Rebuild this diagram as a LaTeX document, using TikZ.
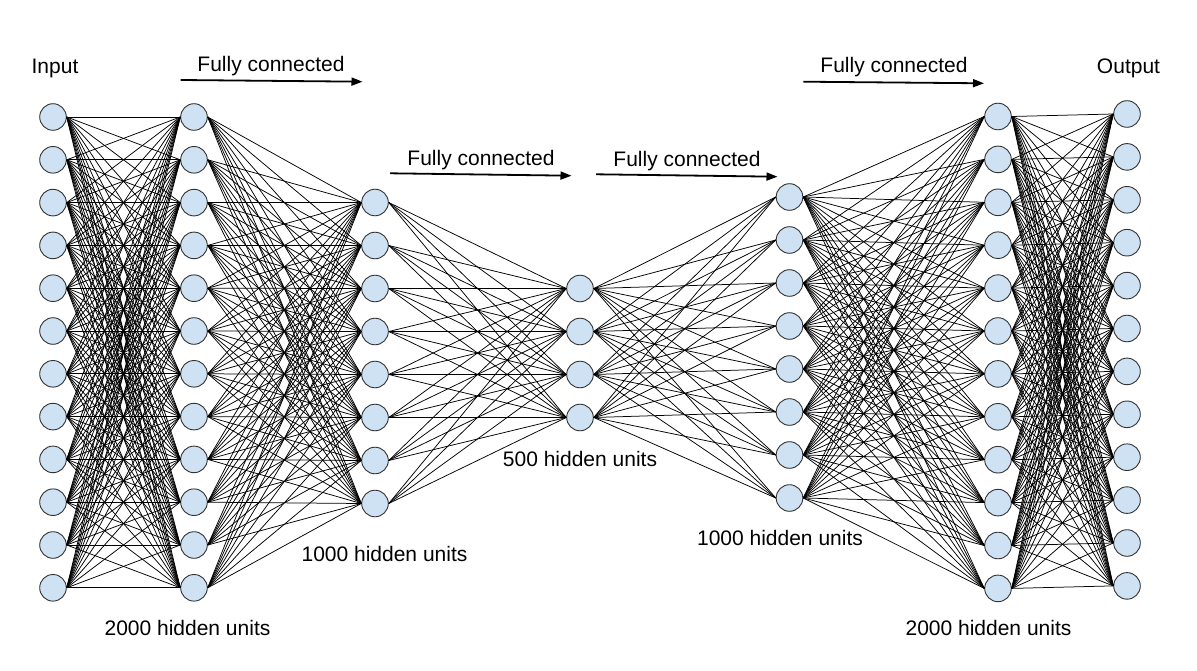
\documentclass[tikz,border=0pt]{standalone}
\usepackage{fontspec}
\setmainfont{Liberation Sans}
\usetikzlibrary{arrows.meta}
\definecolor{nfill}{HTML}{CFE2F3}
\definecolor{nline}{HTML}{333333}
\begin{document}
\begin{tikzpicture}[x=1pt,y=-1pt,
  neuron/.style={circle,draw=nline,fill=nfill,line width=0.9pt,minimum size=26.6pt,inner sep=0pt},
  edge/.style={draw=black,line width=0.75pt},
  flow/.style={draw=black,line width=1.8pt,-{Triangle[length=11pt,width=8pt]}},
  lbl/.style={font=\fontsize{21}{25}\selectfont,anchor=base,inner sep=0pt}]
\useasboundingbox (0,0) rectangle (1197,671);
% layers
\foreach \i in {0,...,11} {
  \node[neuron] (A\i) at (53,{117+\i*42.8}) {};
  \node[neuron] (B\i) at (194,{117+\i*42.8}) {};
  \node[neuron] (F\i) at (998,{116.5+\i*42.9}) {};
  \node[neuron] (G\i) at (1127,{114+\i*42.9}) {};
}
\foreach \i in {0,...,7} {
  \node[neuron] (C\i) at (375,{202.5+\i*43}) {};
  \node[neuron] (E\i) at (789.5,{197+\i*43}) {};
}
\foreach \i in {0,...,3} {
  \node[neuron] (D\i) at (580,{288.5+\i*43}) {};
}
% connections
\begin{scope}[on background layer/.style={}]
\foreach \i in {0,...,11} \foreach \j in {0,...,11} \draw[edge] (A\i.east) -- (B\j.west);
\foreach \i in {0,...,11} \foreach \j in {0,...,7} \draw[edge] (B\i.east) -- (C\j.west);
\foreach \i in {0,...,7} \foreach \j in {0,...,3} \draw[edge] (C\i.east) -- (D\j.west);
\foreach \i in {0,...,3} \foreach \j in {0,...,7} \draw[edge] (D\i.east) -- (E\j.west);
\foreach \i in {0,...,7} \foreach \j in {0,...,11} \draw[edge] (E\i.east) -- (F\j.west);
\foreach \i in {0,...,11} \foreach \j in {0,...,11} \draw[edge] (F\i.east) -- (G\j.west);
\end{scope}
% labels
\node[lbl] (tin) at (55,73.3) {Input};
\node[lbl] (tout) at (1128.5,73.3) {Output};
\node[lbl] (fc1) at (271,71.7) {Fully connected};
\node[lbl] (fc2) at (481,166) {Fully connected};
\node[lbl] (fc3) at (687,166.5) {Fully connected};
\node[lbl] (fc4) at (894,73) {Fully connected};
\coordinate (a1s) at (180.7,80); \coordinate (a1e) at (362.5,81.7);
\coordinate (a2s) at (390,173.3); \coordinate (a2e) at (571.5,175.7);
\coordinate (a3s) at (596,174.3); \coordinate (a3e) at (777.5,176.7);
\coordinate (a4s) at (803.3,81.7); \coordinate (a4e) at (984,83.3);
\draw[flow] (a1s) -- (a1e);
\draw[flow] (a2s) -- (a2e);
\draw[flow] (a3s) -- (a3e);
\draw[flow] (a4s) -- (a4e);
\node[lbl] (h1) at (187.5,635) {2000 hidden units};
\node[lbl] (h2) at (384.5,561.7) {1000 hidden units};
\node[lbl] (h3) at (580,466.7) {500 hidden units};
\node[lbl] (h4) at (780,545) {1000 hidden units};
\node[lbl] (h5) at (988.5,635) {2000 hidden units};
\end{tikzpicture}
\end{document}
